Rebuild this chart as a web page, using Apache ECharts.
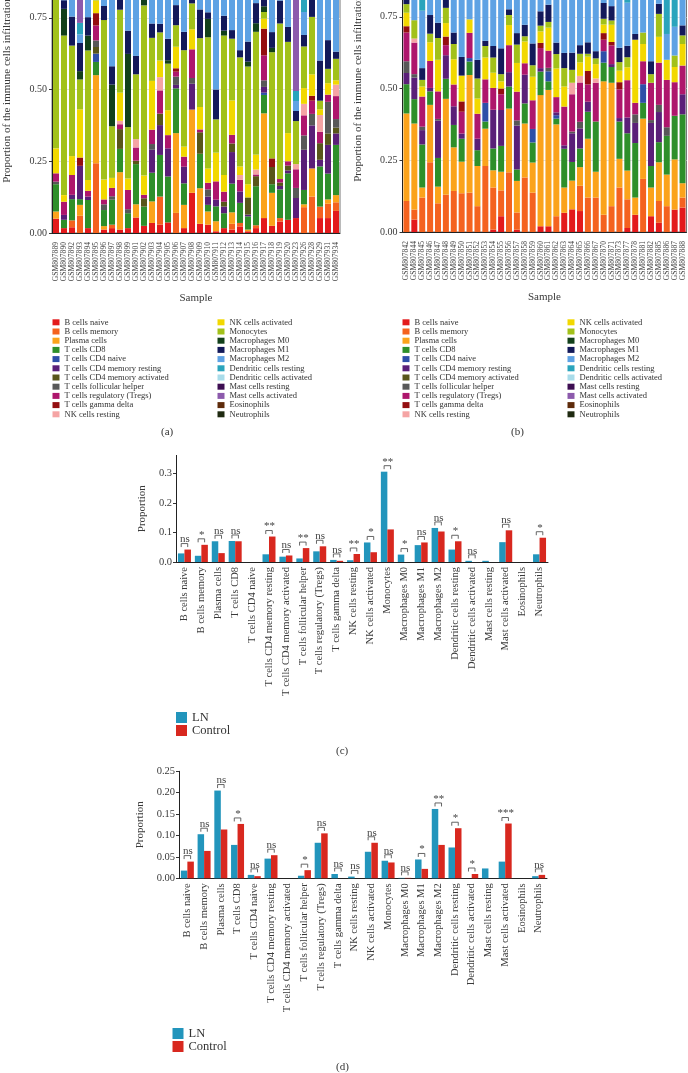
<!DOCTYPE html>
<html><head><meta charset="utf-8">
<script src="https://cdn.jsdelivr.net/npm/echarts/dist/echarts.min.js"></script>
<style>html,body{margin:0;padding:0;background:#fff}#c{width:688px;height:1073px}</style>
</head><body><div id="c"></div>
<script>
// ---------- DATA ----------
const cellTypes = ['B cells naive','B cells memory','Plasma cells','T cells CD8','T cells CD4 naive','T cells CD4 memory resting','T cells CD4 memory activated','T cells follicular helper','T cells regulatory (Tregs)','T cells gamma delta','NK cells resting','NK cells activated','Monocytes','Macrophages M0','Macrophages M1','Macrophages M2','Dendritic cells resting','Dendritic cells activated','Mast cells resting','Mast cells activated','Eosinophils','Neutrophils'];
const cellColors = ['#E31A1C','#F4621F','#FBA31B','#2E8F2A','#2E4FA8','#5A1F78','#58561A','#585858','#AE166C','#940E10','#F5A4A4','#F2D800','#A2C11A','#12401B','#13195A','#5EA2E4','#2AA4BC','#A9DCEA','#3D0E52','#8C5AAC','#5E2B0B','#1F2A10'];

const samplesA = ['GSM807889','GSM807890','GSM807892','GSM807893','GSM807894','GSM807895','GSM807896','GSM807897','GSM807898','GSM807899','GSM807901','GSM807902','GSM807903','GSM807904','GSM807905','GSM807906','GSM807907','GSM807908','GSM807909','GSM807910','GSM807911','GSM807912','GSM807913','GSM807914','GSM807915','GSM807916','GSM807917','GSM807918','GSM807919','GSM807920','GSM807923','GSM807926','GSM807928','GSM807929','GSM807931','GSM807934'];
const samplesB = ['GSM807842','GSM807844','GSM807845','GSM807846','GSM807847','GSM807848','GSM807849','GSM807850','GSM807851','GSM807852','GSM807853','GSM807854','GSM807855','GSM807856','GSM807857','GSM807858','GSM807859','GSM807860','GSM807861','GSM807862','GSM807863','GSM807864','GSM807865','GSM807866','GSM807867','GSM807870','GSM807871','GSM807873','GSM807877','GSM807878','GSM807881','GSM807882','GSM807885','GSM807886','GSM807887','GSM807888'];

// one row per sample, 22 fractions in cellTypes order
const fracA = [
[.05,0,.025,.095,0,0,0,.009,.029,0,0,.087,.55,0,.05,.08,.025,0,0,0,0,0],
[.017,0,0,.029,0,.017,0,0,.046,0,0,.023,.556,.093,.03,.163,.026,0,0,0,0,0],
[.02,.024,0,.074,0,.015,0,0,.069,0,0,.066,.385,0,.101,.2,.046,0,0,0,0,0],
[0,.06,.038,.02,0,.116,0,0,0,.029,0,.168,.104,.029,.098,.03,.04,0,0,.268,0,0],
[.017,0,0,.098,0,.012,0,0,.02,0,0,.038,.451,.052,.064,.2,.048,0,0,0,0,0],
[0,.243,.307,.046,.029,0,.023,.023,.052,.043,0,.044,.1,0,0,.09,0,0,0,0,0,0],
[.012,0,.012,.056,0,0,0,.02,.017,0,0,.069,.556,0,.049,.17,.039,0,0,0,0,0],
[.017,.012,0,.087,0,0,0,.012,.029,0,0,.035,.18,.145,.064,.4,.019,0,0,0,0,0],
[.012,0,.2,.081,0,0,.069,0,.017,0,.012,.098,.289,0,.04,.15,.032,0,0,0,0,0],
[.017,0,0,.052,0,0,0,.014,.067,0,0,.04,.179,.255,.081,.27,.025,0,0,0,0,0],
[.054,0,.046,.14,0,0,.012,0,.046,0,.029,0,.226,0,.064,.31,.073,0,0,0,0,0],
[.025,0,0,.067,0,0,.029,0,.012,0,0,.067,.593,.04,.04,.12,.007,0,0,0,0,0],
[.035,0,.075,.1,0,.08,0,.02,.05,0,0,.17,.15,0,.05,.25,.02,0,0,0,0,0],
[.029,.098,0,.145,0,.104,.04,0,.081,0,.046,.058,.098,0,.03,.24,.031,0,0,0,0,0],
[.037,0,0,.16,0,.098,0,0,.046,0,0,.087,.162,.012,.075,.26,.063,0,0,0,0,0],
[0,.07,.278,.156,0,.012,0,.029,.017,.012,0,.075,.075,0,.07,.16,.046,0,0,0,0,0],
[.017,0,.081,.075,0,.058,0,0,.035,0,0,.035,.336,0,.064,.25,.049,0,0,0,0,0],
[.14,0,.29,0,0,.09,0,.02,.1,0,0,.07,.09,0,.02,.15,.03,0,0,0,0,0],
[.032,0,.124,.12,0,0,.075,0,.01,0,0,.078,.24,0,.1,.17,.051,0,0,0,0,0],
[.029,0,.046,.023,0,.029,0,.025,.023,0,0,.05,.457,.064,.023,.2,.031,0,0,0,0,0],
[.006,0,.035,.052,0,.023,0,0,.064,0,0,.1,.116,0,.104,.45,.05,0,0,0,0,0],
[.017,0,0,.052,0,.023,.017,0,.035,0,0,.058,.486,.017,.052,.2,.043,0,0,0,0,0],
[.012,.02,.04,.1,0,.11,.03,0,.03,0,0,.12,.215,0,.03,.25,.043,0,0,0,0,0],
[.023,.012,0,.07,0,.04,0,0,.04,0,.017,.03,.38,0,.025,.2,.12,.043,0,0,0,0],
[.006,0,.006,.046,0,.006,.06,0,0,0,0,.046,.41,.017,.07,.28,.053,0,0,0,0,0],
[.017,.01,0,.136,0,0,.035,0,.006,0,.017,.052,.428,.03,.07,.16,.039,0,0,0,0,0],
[.052,0,.365,.064,.008,.02,0,.023,.087,.093,0,.035,.023,.02,.03,.15,.03,0,0,0,0,0],
[.025,0,.115,.03,0,0,.06,0,0,.03,0,0,.37,.015,.055,.26,.04,0,0,0,0,0],
[.04,.012,0,.1,0,.012,.012,0,.012,0,0,0,.542,0,.08,.16,.03,0,0,0,0,0],
[.046,0,0,.162,0,.01,.017,0,.015,0,0,.098,.318,0,.052,.24,.042,0,0,0,0,0],
[.052,0,0,0,0,.07,0,.035,.065,0,.018,0,.15,0,.035,.035,.035,0,0,.505,0,0],
[0,.09,.01,.05,0,.14,0,.05,.07,0,.04,.055,.145,0,.04,.08,.23,0,0,0,0,0],
[0,.127,.098,0,0,.15,0,.04,.046,.017,0,.075,.2,0,.06,.15,.037,0,0,0,0,0],
[.052,.04,0,.14,0,.023,.058,0,.04,0,.058,.02,.03,0,.14,.33,.069,0,0,0,0,0],
[.052,.05,.015,.09,0,.1,.04,.11,.025,0,0,.04,.05,0,.1,.26,.068,0,0,0,0,0],
[.077,.03,.025,.175,0,.04,.02,.03,.08,0,.04,.015,.075,0,.025,.3,.068,0,0,0,0,0]
];
const fracB = [
[0,.108,.305,.102,0,.039,0,.041,.1,.022,0,.047,.03,0,.03,.15,.026,0,0,0,0,0],
[.043,.035,.3,.085,0,.075,0,.012,.11,0,.014,0,.064,0,0,.23,.032,0,0,0,0,0],
[0,.12,.035,.15,0,.05,0,.012,.105,0,0,.035,.023,0,.041,.2,.229,0,0,0,0,0],
[0,.243,.2,.047,0,.012,0,0,.094,0,0,.065,.03,0,.065,.2,.044,0,0,0,0,0],
[0,.1,.058,.1,0,.13,0,.006,.096,0,0,.11,.076,0,.053,.22,.051,0,0,0,0,0],
[0,.13,.334,.07,0,.082,0,0,.035,.03,0,.047,.053,0,.05,.14,.029,0,0,0,0,0],
[0,.143,.152,.078,0,.065,0,0,.076,0,0,.088,.053,0,.04,.27,.035,0,0,0,0,0],
[0,.135,.11,.08,0,.018,0,0,.076,.036,0,.09,0,0,.065,.35,.04,0,0,0,0,0],
[0,.137,.41,.047,.012,0,0,0,.088,0,0,.047,0,0,0,.22,.039,0,0,0,0,0],
[0,.09,.14,.055,0,.04,0,0,.087,0,0,.053,.07,0,.065,.36,.04,0,0,0,0,0],
[0,.23,.13,.025,.065,0,0,0,.082,0,0,.076,.04,0,.018,.3,.034,0,0,0,0,0],
[.008,.147,.06,.076,0,.135,0,0,.076,0,0,.053,.053,0,.04,.31,.042,0,0,0,0,0],
[.055,.09,.065,.09,0,.125,0,0,.055,.02,0,.025,.025,0,.09,.32,.04,0,0,0,0,0],
[0,.208,.222,.077,0,.05,0,0,.094,0,0,.07,.035,0,.02,.18,.044,0,0,0,0,0],
[.008,.06,.11,.04,0,.153,0,.018,.1,0,0,.1,.064,0,.04,.27,.037,0,0,0,0,0],
[0,.19,.188,.07,0,.1,0,0,.04,0,0,.076,.018,0,.04,.24,.038,0,0,0,0,0],
[0,.137,.105,.07,.047,0,0,0,.1,0,0,.082,.04,0,.076,.3,.043,0,0,0,0,0],
[.02,0,.457,.082,0,.012,0,0,.07,.018,0,.04,.02,0,.05,.19,.041,0,0,0,0,0],
[.02,0,.475,.03,.035,0,0,.012,.06,0,0,.08,.02,0,.06,.18,.028,0,0,0,0,0],
[0,.055,.32,.02,.012,.01,0,0,.053,0,0,.1,.05,0,.04,.3,.04,0,0,0,0,0],
[.067,0,.088,.135,0,.012,0,0,.135,0,0,.07,.064,0,.053,.33,.046,0,0,0,0,0],
[.079,0,.1,.065,0,.1,0,.006,.13,0,.04,0,.045,0,.06,.33,.045,0,0,0,0,0],
[.073,.088,.065,.065,0,.07,0,.023,.137,0,.023,.047,.03,0,.03,.3,.049,0,0,0,0,0],
[0,.12,.205,.094,0,.035,0,0,.06,.047,0,.05,.01,0,.04,.3,.039,0,0,0,0,0],
[0,.12,.09,.175,0,0,0,0,.135,0,.015,.05,.02,0,.025,.32,.05,0,0,0,0,0],
[0,.06,.465,.065,.04,0,0,0,.04,.023,0,.03,.02,0,.055,.16,.042,0,0,0,0,0],
[0,.09,.43,.055,0,.01,0,0,.065,.012,0,.06,.015,0,.05,.17,.043,0,0,0,0,0],
[0,.155,.1,.13,0,.012,0,0,.1,.025,0,.04,.03,0,.05,.31,.048,0,0,0,0,0],
[.014,.1,.1,.13,0,.055,0,0,.13,0,0,.045,.035,0,.04,.15,.201,0,0,0,0,0],
[.06,0,.06,.19,0,.07,0,.03,.04,0,0,.22,0,0,.02,.12,.19,0,0,0,0,0],
[0,.185,.21,.055,.065,0,0,0,.08,0,0,.06,.04,0,0,.12,.185,0,0,0,0,0],
[.055,0,.1,.075,0,.15,0,.01,.13,0,0,0,.03,0,.045,.36,.045,0,0,0,0,0],
[.032,.076,.135,.07,0,.105,0,.025,.147,0,0,.09,.08,0,.035,.15,.055,0,0,0,0,0],
[0,.09,.11,.135,0,0,0,.03,.165,0,0,.07,0,0,0,.09,.31,0,0,0,0,0],
[.078,0,.175,.152,0,0,0,0,.117,0,0,.053,.04,0,0,.1,.2,.085,0,0,0,0],
[.085,.035,.05,.24,0,.07,0,0,.1,0,0,.075,.03,0,.035,.22,.06,0,0,0,0,0]
];

const groupNames = ['LN','Control'];
const compCats = cellTypes;   // x categories of panels (c) and (d)
const lnC   = [.029,.021,.070,.071,0,.026,.018,.012,.036,.007,.006,.066,.305,.025,.057,.115,.042,.004,.004,.067,0,.026];
const ctrlC = [.042,.058,.030,.070,0,.086,.022,.047,.053,.004,.027,.033,.110,0,.066,.103,.070,0,0,.107,0,.082];
const sigC  = ['ns','*','ns','ns','','**','ns','**','ns','ns','**','*','**','*','ns','ns','*','ns','','ns','','*'];
const lnD   = [.018,.103,.205,.078,.008,.046,0,.006,.083,.010,.004,.062,.041,.001,.044,.162,.072,0,.023,.039,0,.005];
const ctrlD = [.039,.064,.114,.127,.005,.054,0,.019,.105,0,0,.083,.037,.001,.022,.078,.117,.010,0,.128,0,.008];
const sigD  = ['ns','ns','ns','*','ns','ns','','*','ns','ns','ns','ns','ns','ns','*','**','*','*','','***','','ns'];

// ---------- STYLE ----------
const FONT = 'Liberation Serif';
const LN_COLOR = '#2295BC', CTRL_COLOR = '#D8281F';
const TXT = '#3a3a3a';
const PAIR_W = 6.5;

const chart = echarts.init(document.getElementById('c'), null, {renderer:'canvas'});

function stackXAxis(idx, data){
  return {type:'category', gridIndex:idx, data, name:'Sample', nameLocation:'middle', nameGap:60,
    nameTextStyle:{fontFamily:FONT, fontSize:11, color:TXT},
    axisLine:{lineStyle:{color:'#222', width:1}},
    axisTick:{alignWithLabel:true, length:3, lineStyle:{color:'#333'}},
    axisLabel:{interval:0, rotate:90, fontFamily:FONT, fontSize:7.6, color:'#444', margin:9}};
}
function stackYAxis(idx){
  return {type:'value', gridIndex:idx, min:0, max:1, interval:0.25,
    name:'Proportion of the immune cells infiltration', nameLocation:'middle', nameGap:39,
    nameTextStyle:{fontFamily:FONT, fontSize:11, color:TXT},
    axisLine:{show:true, lineStyle:{color:'#222'}},
    axisTick:{show:true, length:3, lineStyle:{color:'#333'}},
    axisLabel:{fontFamily:FONT, fontSize:10, color:TXT, margin:5, formatter:v=>v.toFixed(2)},
    splitLine:{show:true, lineStyle:{color:'#e2e2e2', width:1}}};
}
function compXAxis(idx){
  return {type:'category', gridIndex:idx, data:compCats,
    axisLine:{lineStyle:{color:'#222'}},
    axisTick:{alignWithLabel:true, length:3, lineStyle:{color:'#333'}},
    axisLabel:{interval:0, rotate:90, fontFamily:FONT, fontSize:10.5, color:TXT, margin:5}};
}
function compYAxis(idx, max, interval, dec, gap){
  return {type:'value', gridIndex:idx, min:0, max, interval,
    name:'Proportion', nameLocation:'middle', nameGap:gap,
    nameTextStyle:{fontFamily:FONT, fontSize:11, color:TXT},
    axisLine:{show:true, lineStyle:{color:'#222'}},
    axisTick:{show:true, length:3, lineStyle:{color:'#333'}},
    axisLabel:{fontFamily:FONT, fontSize:10.5, color:TXT, margin:4, showMaxLabel: dec===2,
      formatter:v=>v.toFixed(dec)},
    splitLine:{show:false}};
}

const series = [];
cellTypes.forEach((name,k)=>{
  series.push({type:'bar', name, xAxisIndex:0, yAxisIndex:0, stack:'a', barWidth:6,
    itemStyle:{color:cellColors[k]}, data: fracA.map(r=>r[k])});
});
cellTypes.forEach((name,k)=>{
  series.push({type:'bar', name, xAxisIndex:1, yAxisIndex:1, stack:'b', barWidth:6,
    itemStyle:{color:cellColors[k]}, data: fracB.map(r=>r[k])});
});
function pairSeries(ax, ln, ctrl, sig){
  series.push({type:'bar', name:groupNames[0], xAxisIndex:ax, yAxisIndex:ax, data:ln, barWidth:PAIR_W, barGap:'0%', itemStyle:{color:LN_COLOR}});
  series.push({type:'bar', name:groupNames[1], xAxisIndex:ax, yAxisIndex:ax, data:ctrl, barWidth:PAIR_W, barGap:'0%', itemStyle:{color:CTRL_COLOR}});
  const items = [];
  sig.forEach((s,i)=>{ if(s) items.push({value:[i, Math.max(ln[i], ctrl[i])], s}); });
  series.push({type:'custom', xAxisIndex:ax, yAxisIndex:ax, z:10, clip:false, silent:true,
    data: items.map(d=>d.value),
    renderItem:(params, api)=>{
      const c = api.coord([api.value(0), api.value(1)]);
      const h = PAIR_W/2, yT = c[1]-6;
      return {type:'group', children:[
        {type:'polyline', shape:{points:[[c[0]-h,yT+3.5],[c[0]-h,yT],[c[0]+h,yT],[c[0]+h,yT+3.5]]},
          style:{stroke:'#555', fill:null, lineWidth:0.9}},
        {type:'text', x:c[0]+0.5, y:yT+1.5, style:{text:items[params.dataIndex].s, fill:'#444',
          font:'11px "Liberation Serif"', align:'center', verticalAlign:'bottom'}}
      ]};
    }});
}
pairSeries(2, lnC, ctrlC, sigC);
pairSeries(3, lnD, ctrlD, sigD);

function stackLegend(left, top, names){
  return {orient:'vertical', left, top, padding:0, itemWidth:7, itemHeight:6, itemGap:0, icon:'rect',
    selectedMode:false, data:names,
    textStyle:{fontFamily:FONT, fontSize:8.5, lineHeight:9.2, color:'#333'}};
}
function pairLegend(left, top){
  return {orient:'vertical', left, top, padding:0, itemWidth:11, itemHeight:11, itemGap:0, icon:'rect',
    selectedMode:false, data:groupNames,
    textStyle:{fontFamily:FONT, fontSize:12.5, lineHeight:12.6, color:'#333'}};
}

const option = {
  animation:false,
  backgroundColor:'#fff',
  textStyle:{fontFamily:FONT},
  grid:[
    {left:52, top:-54, width:288, height:287, show:true, borderColor:'#777', borderWidth:1, outerBoundsMode:'none'},
    {left:402.5, top:-55, width:284, height:287, show:true, borderColor:'#777', borderWidth:1, outerBoundsMode:'none'},
    {left:176, top:455.4, width:372, height:106.6, outerBoundsMode:'none'},
    {left:179, top:771.3, width:368, height:107, outerBoundsMode:'none'}
  ],
  xAxis:[stackXAxis(0, samplesA), stackXAxis(1, samplesB), compXAxis(2), compXAxis(3)],
  yAxis:[stackYAxis(0), stackYAxis(1), compYAxis(2, 0.36, 0.1, 1, 26), compYAxis(3, 0.25, 0.05, 2, 32)],
  legend:[
    stackLegend(52.5, 317.7, cellTypes.slice(0,11)),
    stackLegend(217.5, 317.7, cellTypes.slice(11)),
    stackLegend(402.5, 317.7, cellTypes.slice(0,11)),
    stackLegend(567.5, 317.7, cellTypes.slice(11)),
    pairLegend(176, 711),
    pairLegend(172.5, 1027)
  ],
  graphic:[
    {type:'text', left:161, top:427, style:{text:'(a)', font:'11px "Liberation Serif"', fill:'#333'}},
    {type:'text', left:511, top:427, style:{text:'(b)', font:'11px "Liberation Serif"', fill:'#333'}},
    {type:'text', left:336, top:746, style:{text:'(c)', font:'11px "Liberation Serif"', fill:'#333'}},
    {type:'text', left:336, top:1062, style:{text:'(d)', font:'11px "Liberation Serif"', fill:'#333'}}
  ],
  series
};
chart.setOption(option);
</script></body></html>
